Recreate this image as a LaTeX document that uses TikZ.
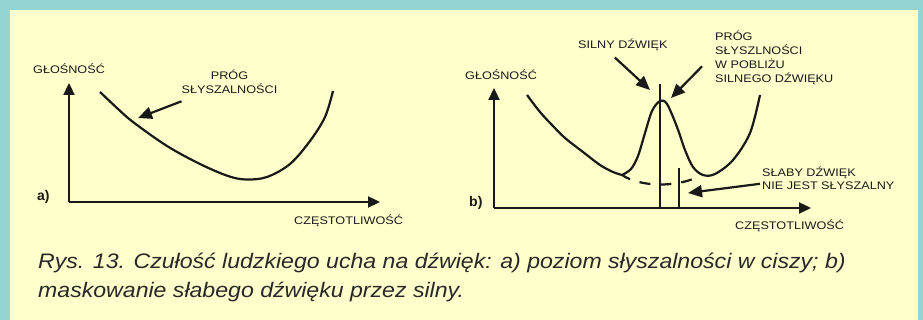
\documentclass[tikz,border=0pt]{standalone}
\usepackage{fontspec}
\setmainfont{Liberation Sans}
\newfontfamily\lblfont[FakeStretch=1.15]{Liberation Sans}
\newfontfamily\capfont[FakeStretch=1.10]{Liberation Sans}
\usetikzlibrary{arrows.meta,calc}
\definecolor{frame}{RGB}{150,212,212}
\definecolor{paper}{RGB}{255,255,204}
\definecolor{ink}{RGB}{25,25,25}
\definecolor{capink}{RGB}{40,40,40}
\begin{document}
\begin{tikzpicture}[x=1pt,y=-1pt,
  lbl/.style={font=\lblfont\fontsize{11}{14}\selectfont, inner sep=0pt, text=ink},
  tag/.style={font=\fontsize{14}{16}\selectfont\bfseries, inner sep=0pt, text=ink},
  curve/.style={line width=2.2pt, draw=ink, line join=round},
  axis/.style={line width=2.3pt, draw=ink, -{Triangle[length=12pt,width=11pt]}},
  pointer/.style={line width=2.2pt, draw=ink, -{Triangle[length=14pt,width=12pt]}},
  tone/.style={line width=2.2pt, draw=ink},
  masked/.style={line width=2.2pt, draw=ink, dash pattern=on 11pt off 10pt, dash phase=2pt}]
\useasboundingbox (0,0) rectangle (923,320);
\fill[frame] (0,0) rectangle (923,320);
\fill[paper] (10,10) rectangle (918,320);

% ---------- panel a ----------
\coordinate (aO) at (69,202);
\coordinate (aY) at (69,83);
\coordinate (aX) at (380,202);
\draw[axis] (aO) -- (aY);
\draw[axis] (aO) -- (aX);
\node[lbl, anchor=base west] (aGl) at (33,73.5) {GŁOŚNOŚĆ};
\node[lbl, anchor=base west] (aCz) at (294,224.5) {CZĘSTOTLIWOŚĆ};
\node[tag, anchor=base west] (aTag) at (37,201) {a)};
\draw[curve] plot[smooth, tension=0.55] coordinates
  {(100,92) (117,108) (133,122) (167,146) (200,164) (228,176) (246,179.5)
   (267,177) (290,164) (310,141) (325,117) (333,91)};
\node[lbl, align=center, anchor=base] (aThr) at (229.5,94) {PRÓG\\SŁYSZALNOŚCI};
\coordinate (aTip) at (138,118);
\draw[pointer] ($(aThr.south west)+(0,7)$) -- (aTip);

% ---------- panel b ----------
\coordinate (bO) at (494,208);
\coordinate (bY) at (494,88);
\coordinate (bX) at (811,208);
\draw[axis] (bO) -- (bY);
\draw[axis] (bO) -- (bX);
\node[lbl, anchor=base west] (bGl) at (465,79.5) {GŁOŚNOŚĆ};
\node[lbl, anchor=base west] (bCz) at (735,229.5) {CZĘSTOTLIWOŚĆ};
\node[tag, anchor=base west] (bTag) at (469,206.5) {b)};

\coordinate (sTop) at (660,84);
\coordinate (sBot) at (660,208);
\coordinate (wTop) at (679,168);
\coordinate (wBot) at (679,208);
\draw[tone] (sBot) -- (sTop);
\draw[tone] (wBot) -- (wTop);

\draw[curve] plot[smooth, tension=0.55] coordinates
  {(527,95) (540,112) (552,125) (565,138) (583,152) (600,165) (613,172) (622,175)};
\draw[curve] plot[smooth, tension=0.55] coordinates
  {(622,175) (631,169) (638,156) (645,133) (652,111) (660,101) (667,104)
   (677,127) (685,150) (693,167) (703,175) (715,174) (733,160) (750,133) (760,95)};
\draw[masked] (622,175) .. controls (640,187) and (676,188) .. (700,176);

\node[lbl, anchor=base west] (bSil) at (578,49) {SILNY DŹWIĘK};
\coordinate (silTip) at (650,90);
\draw[pointer] ($(bSil.south)+(-8,6)$) -- (silTip);

\node[lbl, align=left, anchor=base west] (bThr) at (715,83)
  {PRÓG\\SŁYSZLNOŚCI\\W POBLIŻU\\SILNEGO DŹWIĘKU};
\coordinate (thrTip) at (671,98);
\draw[pointer] ($(bThr.west)+(-13,8)$) -- (thrTip);

\node[lbl, align=left, anchor=base west, font=\lblfont\fontsize{11}{13}\selectfont] (bWeak) at (762,190)
  {SŁABY DŹWIĘK\\NIE JEST SŁYSZALNY};
\coordinate (weakTip) at (688,193);
\draw[pointer] ($(bWeak.west)+(-2,5)$) -- (weakTip);

% ---------- caption ----------
\node[anchor=base west, inner sep=0pt, align=left, text=capink,
  font=\capfont\itshape\fontsize{21}{29}\selectfont] (cap) at (38,298)
  {Rys. 13. Czułość ludzkiego ucha na dźwięk: a) poziom słyszalności w ciszy; b)\\
   maskowanie słabego dźwięku przez silny.};
\end{tikzpicture}
\end{document}
